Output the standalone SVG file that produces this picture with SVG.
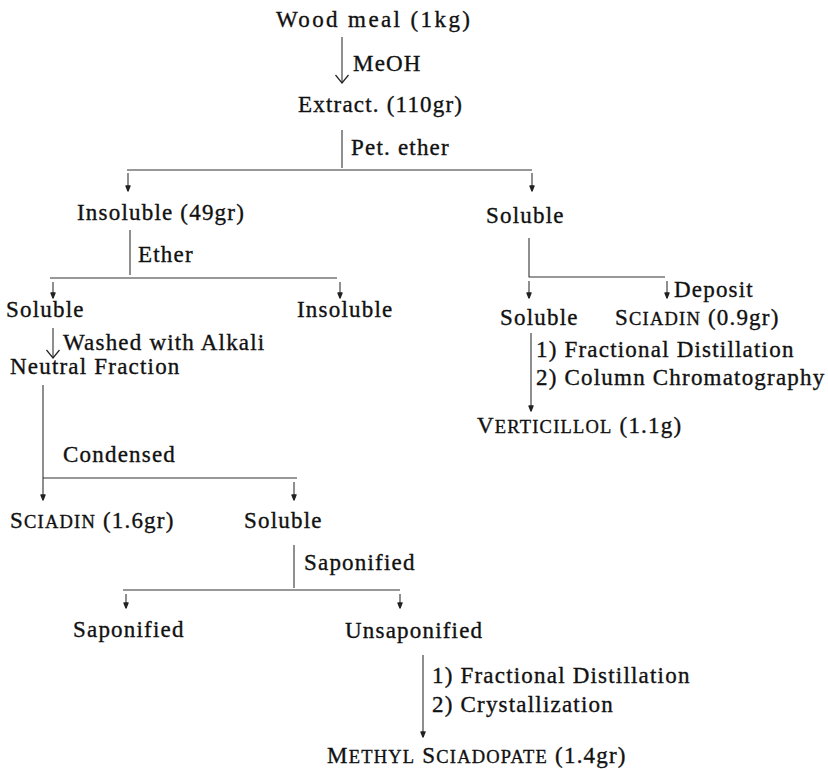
<svg xmlns="http://www.w3.org/2000/svg" width="828" height="770" viewBox="0 0 828 770">
<defs>
<style>
text{font-family:"Liberation Serif","Times New Roman",serif;font-size:23px;fill:#111;stroke:#111;stroke-width:0.35;letter-spacing:1.2px}
.sc{font-size:18.5px}
.wide{letter-spacing:2.4px}
.ln{stroke:#333;stroke-width:1.1;fill:none}
.big{stroke:#222;stroke-width:1.2;fill:none}
.sm{stroke:#222;stroke-width:1.4;fill:#222;stroke-linejoin:round}
</style>
</defs>
<rect width="828" height="770" fill="#fff"/>
<g id="connectors">
<path class="ln" d="M342 37V83"/><path class="big" d="M335.5 75L342 83L348.5 75"/>
<path class="ln" d="M342 130V168"/>
<path class="ln" d="M127 170H532"/>
<path class="ln" d="M128 173V191"/><path class="sm" d="M126 186L128 191L130 186Z"/>
<path class="ln" d="M532 173V191"/><path class="sm" d="M530 186L532 191L534 186Z"/>
<path class="ln" d="M130 230V275"/>
<path class="ln" d="M50 278H337"/>
<path class="ln" d="M53 282V298"/><path class="sm" d="M51 293L53 298L55 293Z"/>
<path class="ln" d="M340 282V298"/><path class="sm" d="M338 293L340 298L342 293Z"/>
<path class="ln" d="M53 328V358"/><path class="big" d="M46.5 350L53 358L59.5 350"/>
<path class="ln" d="M529 238V277H665"/>
<path class="ln" d="M529 281V298"/><path class="sm" d="M527 293L529 298L531 293Z"/>
<path class="ln" d="M667 281V298"/><path class="sm" d="M665 293L667 298L669 293Z"/>
<path class="ln" d="M531 333V411"/><path class="sm" d="M529 406L531 411L533 406Z"/>
<path class="ln" d="M43 385V500"/><path class="sm" d="M41 495L43 500L45 495Z"/>
<path class="ln" d="M43 478H297"/>
<path class="ln" d="M294 482V500"/><path class="sm" d="M292 495L294 500L296 495Z"/>
<path class="ln" d="M294 545V588"/>
<path class="ln" d="M123 590H400"/>
<path class="ln" d="M126 594V608"/><path class="sm" d="M124 603L126 608L128 603Z"/>
<path class="ln" d="M400 594V608"/><path class="sm" d="M398 603L400 608L402 603Z"/>
<path class="ln" d="M423 655V737"/><path class="sm" d="M421 732L423 737L425 732Z"/>
</g>
<g id="edge-labels">
<text x="353" y="71">MeOH</text>
<text x="351" y="155">Pet. ether</text>
<text x="138" y="262">Ether</text>
<text x="63" y="350">Washed with Alkali</text>
<text x="674" y="297">Deposit</text>
<text x="536" y="357">1) Fractional Distillation</text>
<text x="536" y="385">2) Column Chromatography</text>
<text x="63" y="462">Condensed</text>
<text x="304" y="570">Saponified</text>
<text x="432" y="683">1) Fractional Distillation</text>
<text x="432" y="712">2) Crystallization</text>
</g>
<g id="n-wood"><text class="wide" x="276" y="27">Wood meal (1kg)</text></g>
<g id="n-extract"><text x="298" y="112">Extract. (110gr)</text></g>
<g id="n-insoluble49"><text x="77" y="220">Insoluble (49gr)</text></g>
<g id="n-soluble-r"><text x="486" y="223">Soluble</text></g>
<g id="n-soluble-l"><text x="6" y="317">Soluble</text></g>
<g id="n-insoluble"><text x="297" y="317">Insoluble</text></g>
<g id="n-soluble-r2"><text x="500" y="325">Soluble</text></g>
<g id="n-sciadin09"><text x="615" y="325">S<tspan class="sc">CIADIN</tspan> (0.9gr)</text></g>
<g id="n-neutral"><text x="10" y="374">Neutral Fraction</text></g>
<g id="n-verticillol"><text x="477" y="433">V<tspan class="sc">ERTICILLOL</tspan> (1.1g)</text></g>
<g id="n-sciadin16"><text x="10" y="528">S<tspan class="sc">CIADIN</tspan> (1.6gr)</text></g>
<g id="n-soluble-c"><text x="244" y="528">Soluble</text></g>
<g id="n-saponified"><text x="73" y="637">Saponified</text></g>
<g id="n-unsaponified"><text x="345" y="638">Unsaponified</text></g>
<g id="n-methyl"><text x="327" y="763">M<tspan class="sc">ETHYL</tspan> S<tspan class="sc">CIADOPATE</tspan> (1.4gr)</text></g>
</svg>
